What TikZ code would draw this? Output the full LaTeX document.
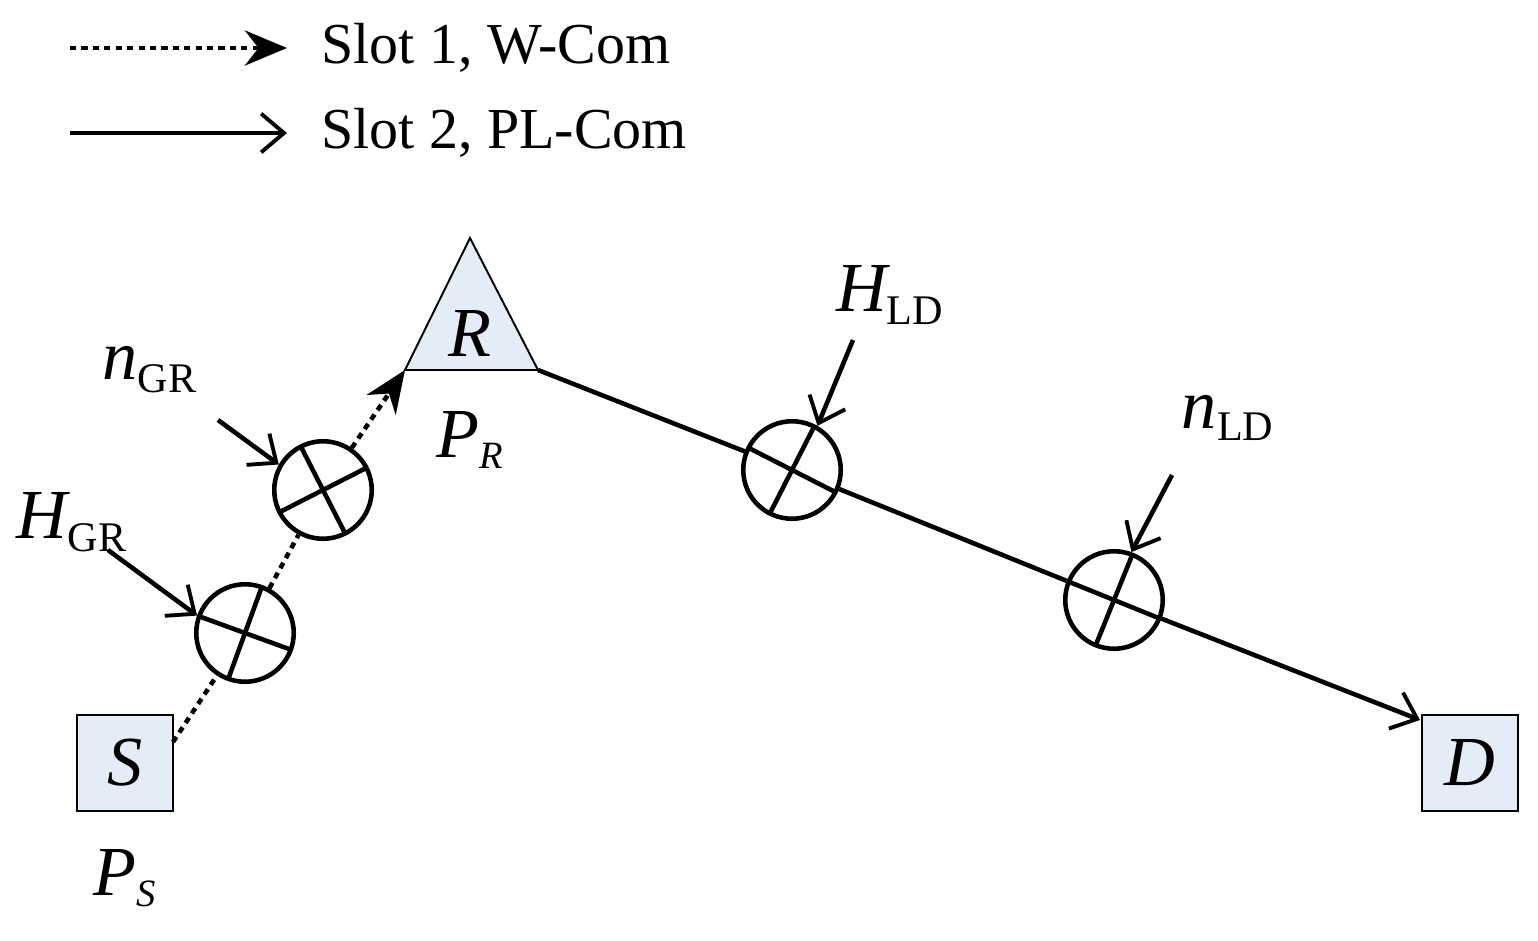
\documentclass[tikz,border=0pt]{standalone}
\usepackage{fontspec}
\setmainfont{Liberation Serif}
\usetikzlibrary{arrows.meta,calc}
\definecolor{bfill}{RGB}{228,236,247}
\begin{document}
\begin{tikzpicture}[x=0.02cm,y=-0.02cm,
  ln/.style={line width=2.6pt},
  dl/.style={line width=2.6pt,dash pattern=on 3.5pt off 3pt},
  box/.style={draw,line width=1.1pt,fill=bfill,minimum size=1.92cm,inner sep=0pt},
  mul/.style={draw,circle,line width=2.6pt,minimum size=1.95cm,inner sep=0pt},
  op/.style={-{Straight Barb[length=13pt,width=22pt,line width=2.2pt]}},
  fl/.style={-{Stealth[length=24pt,width=20pt]}},
  big/.style={font=\fontsize{40}{44}\selectfont\itshape},
  leg/.style={font=\fontsize{33}{36}\selectfont,anchor=west}]
\useasboundingbox (0,0) rectangle (1538,940);
% legend
\coordinate (l1a) at (70,48); \coordinate (l1b) at (287,48);
\coordinate (l2a) at (70,133); \coordinate (l2b) at (287,133);
\draw[dl,fl] (l1a) -- (l1b);
\draw[ln,op] (l2a) -- (l2b);
\node[leg] (t1) at (315,48) {Slot 1, W-Com};
\node[leg] (t2) at (315,133) {Slot 2, PL-Com};
% nodes
\node[box] (S) at (125,763) {};
\node[big] at (S) {S};
\node[box] (D) at (1470,763) {};
\node[big] at (D) {D};
\coordinate (Ra) at (470,238); \coordinate (Rl) at (405,370); \coordinate (Rr) at (538,370);
\draw[line width=1.1pt,fill=bfill] (Ra) -- (Rl) -- (Rr) -- cycle;
\node[big] (R) at (470,333) {R};
\node[big] (PS) at (125,878) {P\textsubscript{\fontsize{22}{24}\selectfont S}};
\node[big] (PR) at (470,440) {P\textsubscript{\fontsize{22}{24}\selectfont R}};
% multipliers
\foreach \n/\x/\y/\a in {c1/245/633/20, c2/323/490/-27, c3/792/470/27, c4/1114/600/22}{
  \node[mul] (\n) at (\x,\y) {};
  \draw[ln] ($(\n)+(\a:50)$) -- ($(\n)+(\a+180:50)$);
  \draw[ln] ($(\n)+(\a+90:50)$) -- ($(\n)+(\a+270:50)$);
}
% links
\coordinate (Sout) at (173,742);
\draw[dl] (Sout) -- (c1);
\draw[dl] (c1) -- (c2);
\draw[dl,fl] (c2) -- (Rl);
\draw[ln] (Rr) -- (c3);
\draw[ln] (c3) -- (c4);
\coordinate (Din) at (1420,720);
\draw[ln,op] (c4) -- (Din);
% inputs
\node[big] (HGR) at (72,522) {H\textsubscript{\fontsize{24}{26}\selectfont\upshape GR}};
\node[big] (nGR) at (150,370) {n\textsubscript{\fontsize{24}{26}\selectfont\upshape GR}};
\node[big] (HLD) at (890,295) {H\textsubscript{\fontsize{24}{26}\selectfont\upshape LD}};
\node[big] (nLD) at (1228,418) {n\textsubscript{\fontsize{24}{26}\selectfont\upshape LD}};
\coordinate (i1) at (108,550); \coordinate (i2) at (218,420);
\coordinate (i3) at (853,340); \coordinate (i4) at (1172,475);
\draw[ln,op] (i1) -- (c1.160);
\draw[ln,op] (i2) -- (c2.150);
\draw[ln,op] (i3) -- (c3.60);
\draw[ln,op] (i4) -- (c4.70);
\end{tikzpicture}
\end{document}
